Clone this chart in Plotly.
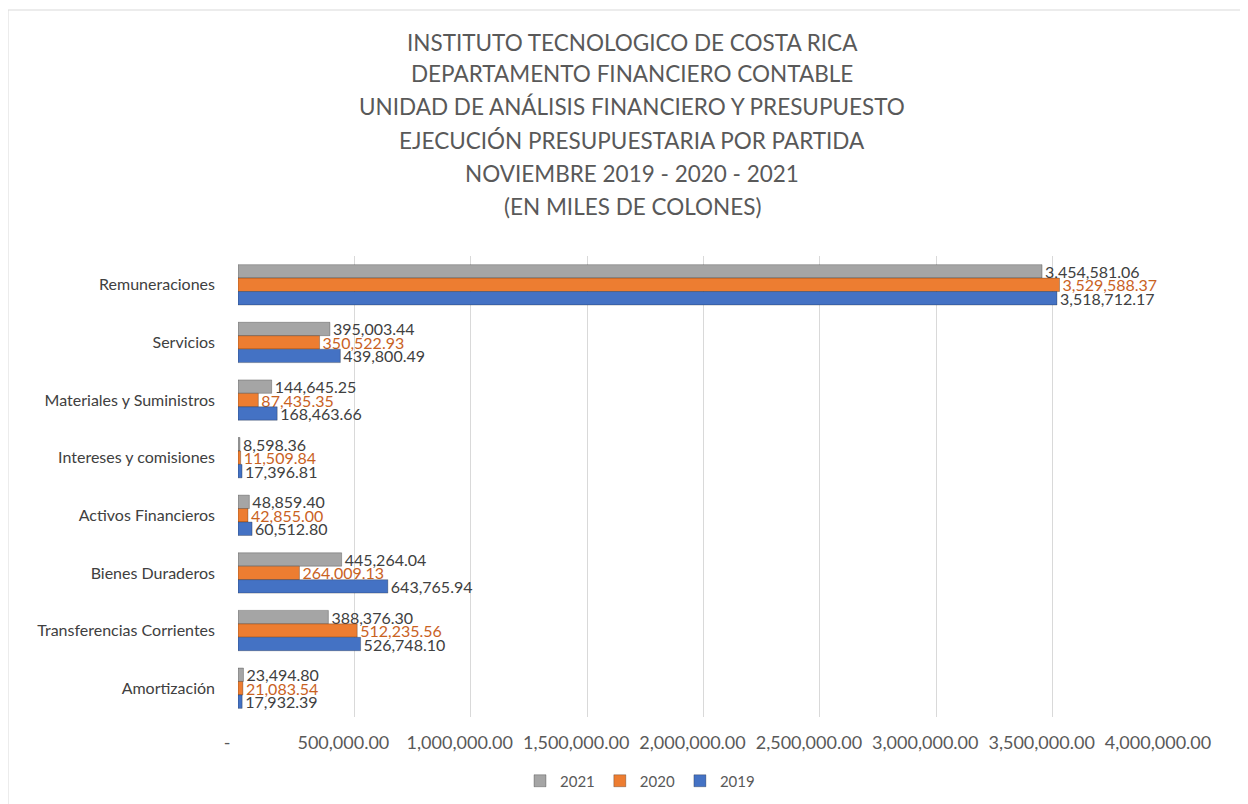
import plotly.graph_objects as go

categories = ["Remuneraciones", "Servicios", "Materiales y Suministros", "Intereses y comisiones",
              "Activos Financieros", "Bienes Duraderos", "Transferencias Corrientes", "Amortización"]
v2021 = [3454581.06, 395003.44, 144645.25, 8598.36, 48859.40, 445264.04, 388376.30, 23494.80]
v2020 = [3529588.37, 350522.93, 87435.35, 11509.84, 42855.00, 264009.13, 512235.56, 21083.54]
v2019 = [3518712.17, 439800.49, 168463.66, 17396.81, 60512.80, 643765.94, 526748.10, 17932.39]
tick_vals = [0, 500000, 1000000, 1500000, 2000000, 2500000, 3000000, 3500000, 4000000]
tick_text = ["-", "500,000.00", "1,000,000.00", "1,500,000.00", "2,000,000.00", "2,500,000.00",
             "3,000,000.00", "3,500,000.00", "4,000,000.00"]
title_lines = ["INSTITUTO TECNOLOGICO DE COSTA RICA", "DEPARTAMENTO FINANCIERO CONTABLE",
               "UNIDAD DE ANÁLISIS FINANCIERO Y PRESUPUESTO", "EJECUCIÓN PRESUPUESTARIA POR PARTIDA",
               "NOVIEMBRE 2019 - 2020 - 2021", "(EN MILES DE COLONES)"]

FONT = "Lato"
OFF = 8  # page body margin
W, H = 1248, 804
L, R, T, B = 238 - OFF, W - (1169 - OFF), 256 - OFF, H - (717 - OFF)
PW, PH = W - L - R, H - T - B

def px_y(page_y):
    return (H - B - (page_y - OFF)) / PH

def px_x(page_x):
    return (page_x - OFF - L) / PW

fig = go.Figure()
series = [("2021", v2021, "#A5A5A5", "#404040"),
          ("2020", v2020, "#ED7D31", "#C9621F"),
          ("2019", v2019, "#4472C4", "#404040")]
for name, vals, col, tcol in series:
    fig.add_trace(go.Bar(
        y=categories, x=vals, name=name, orientation="h",
        marker=dict(color=col, line=dict(color="rgba(0,0,0,0.25)", width=1)),
        texttemplate="%{x:,.2f}", textposition="outside", constraintext="none",
        textfont=dict(family=FONT, size=16, color=tcol),
        cliponaxis=False,
    ))

fig.update_layout(
    width=W, height=H,
    paper_bgcolor="white", plot_bgcolor="white",
    barmode="group", bargap=0.3, bargroupgap=0,
    margin=dict(l=L, r=R, t=T, b=B),
    font=dict(family=FONT, color="#595959"),
    showlegend=True,
    legend=dict(orientation="h", x=px_x(640), xanchor="center", y=px_y(781), yanchor="middle",
                font=dict(family=FONT, size=15, color="#595959")),
    xaxis=dict(range=[0, 4000000], tickvals=tick_vals, ticktext=tick_text,
               showgrid=True, gridcolor="#D9D9D9", gridwidth=1, zeroline=False,
               tickfont=dict(family=FONT, size=18, color="#595959"), ticks="",
               ticklabelstandoff=13, ticklabelshift=-11),
    yaxis=dict(autorange="reversed", tickfont=dict(family=FONT, size=16, color="#404040"),
               ticks="", ticklabelstandoff=22, showline=False),
)

title_y = [42, 74, 107, 140, 173, 207]
for line, yy in zip(title_lines, title_y):
    fig.add_annotation(text=line, xref="paper", yref="paper", x=px_x(632), y=px_y(yy),
                       xanchor="center", yanchor="middle", showarrow=False,
                       font=dict(family=FONT, size=22.5, color="#595959"))

# outer chart border
fig.add_shape(type="rect", xref="paper", yref="paper",
              x0=px_x(8), x1=px_x(1254), y0=px_y(812), y1=px_y(10),
              line=dict(color="#D9D9D9", width=1), fillcolor="rgba(0,0,0,0)")

fig.write_html("out.html")
